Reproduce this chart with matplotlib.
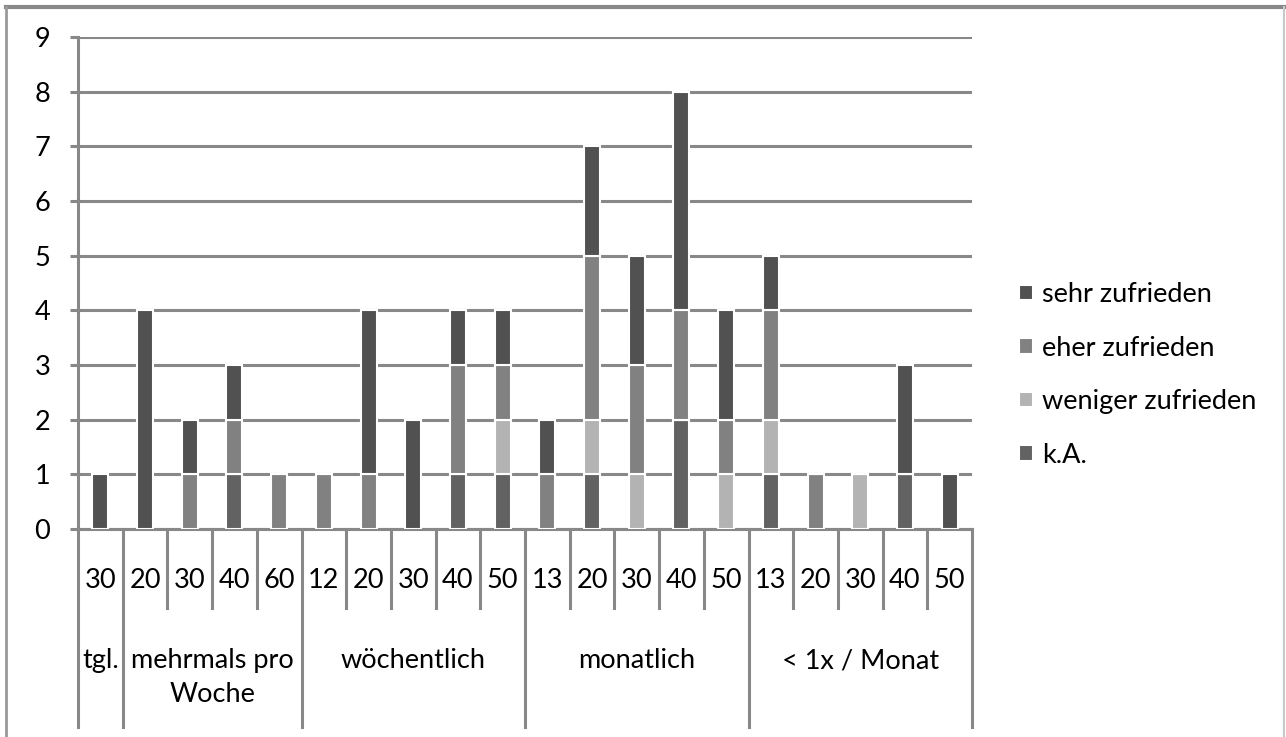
import numpy as np
import matplotlib
matplotlib.use("Agg")
from matplotlib import pyplot as plt
from matplotlib.lines import Line2D

plt.rcParams['font.family'] = ['Lato', 'DejaVu Sans']

# Kategorien (untere Ebene) und Gruppen (obere Ebene)
alter = ['30', '20', '30', '40', '60', '12', '20', '30', '40', '50',
         '13', '20', '30', '40', '50', '13', '20', '30', '40', '50']
gruppen = ['tgl.', 'mehrmals pro\nWoche', 'wöchentlich', 'monatlich', '< 1x / Monat']
gruppen_anzahl = [1, 4, 5, 5, 5]

# Werte je Zufriedenheitsstufe (von unten nach oben gestapelt)
k_a = [0, 0, 0, 1, 0, 0, 0, 0, 1, 1, 0, 1, 0, 2, 0, 1, 0, 0, 1, 0]
weniger = [0, 0, 0, 0, 0, 0, 0, 0, 0, 1, 0, 1, 1, 0, 1, 1, 0, 1, 0, 0]
eher = [0, 0, 1, 1, 1, 1, 1, 0, 2, 1, 1, 3, 2, 2, 1, 2, 1, 0, 0, 0]
sehr = [1, 4, 1, 1, 0, 0, 3, 2, 1, 1, 1, 2, 2, 4, 2, 1, 0, 0, 2, 1]

serien = [('k.A.', k_a, '#626262'),
          ('weniger zufrieden', weniger, '#b3b3b3'),
          ('eher zufrieden', eher, '#818181'),
          ('sehr zufrieden', sehr, '#515151')]

fs = 19.5
fig = plt.figure(figsize=(12.86, 7.37), dpi=100)
W, H = 1286, 737
ax = fig.add_axes([78 / W, (H - 529) / H, (972 - 78) / W, (529 - 37) / H])

x = np.arange(len(alter)) + 0.5
unten = np.zeros(len(alter))
handles = {}
for name, werte, farbe in serien:
    werte = np.array(werte, dtype=float)
    b = ax.bar(x, werte, width=0.36, bottom=unten, color=farbe,
               edgecolor='white', linewidth=1.5, zorder=3, label=name)
    handles[name] = b
    unten += werte

ax.set_xlim(0, len(alter))
ax.set_ylim(0, 9)
ax.set_yticks(range(10))
ax.yaxis.grid(True, color='#888888', linewidth=2.2, zorder=0)
ax.set_axisbelow(True)
for s in ['top', 'right']:
    ax.spines[s].set_visible(False)
for s in ['left', 'bottom']:
    ax.spines[s].set_color('#888888')
    ax.spines[s].set_linewidth(2.2)
ax.tick_params(axis='y', length=6, width=2.2, color='#888888', labelsize=fs, pad=14)
ax.set_xticks([])

# mehrstufige x-Achse
trans = ax.get_xaxis_transform()
h_px = 529 - 37
kurz = -(608 - 529) / h_px
lang = -(727 - 529) / h_px
grenzen = np.cumsum([0] + gruppen_anzahl)
for i in range(len(alter) + 1):
    y_end = lang if i in grenzen else kurz
    ax.add_line(Line2D([i, i], [0, y_end], transform=trans, color='#888888',
                       linewidth=2.2, clip_on=False))
for i, lab in enumerate(alter):
    ax.text(x[i], -(581 - 529) / h_px, lab, transform=trans, ha='center',
            va='center', fontsize=fs)
for j, lab in enumerate(gruppen):
    mitte = (grenzen[j] + grenzen[j + 1]) / 2
    ax.text(mitte, -(648 - 529) / h_px, lab, transform=trans, ha='center',
            va='top', fontsize=fs, linespacing=1.45)

# Legende
reihenfolge = ['sehr zufrieden', 'eher zufrieden', 'weniger zufrieden', 'k.A.']
leg = fig.legend([handles[n] for n in reihenfolge], reihenfolge,
                 loc='center left', bbox_to_anchor=(995 / W, 1 - 375 / H),
                 frameon=False, fontsize=fs, handlelength=0.5,
                 handleheight=0.5, handletextpad=0.35, labelspacing=1.05)

# Rahmen um das Diagramm
fig.add_artist(Line2D([6 / W, 1284 / W], [1 - 7 / H, 1 - 7 / H], transform=fig.transFigure,
                      color='#888888', linewidth=3))
fig.add_artist(Line2D([6 / W, 6 / W], [0, 1 - 7 / H], transform=fig.transFigure,
                      color='#999999', linewidth=2))
fig.add_artist(Line2D([1284 / W, 1284 / W], [0, 1 - 7 / H], transform=fig.transFigure,
                      color='#c8c8c8', linewidth=1.5))

fig.savefig('out.png', dpi=100)
